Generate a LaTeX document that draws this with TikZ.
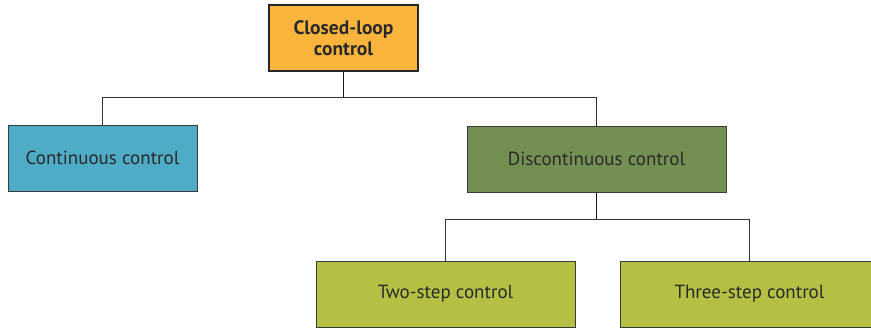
\documentclass[tikz,border=0pt]{standalone}
\usepackage{fontspec}
\setmainfont{PT Sans}
\definecolor{orangebox}{HTML}{FBB53C}
\definecolor{bluebox}{HTML}{4FACC6}
\definecolor{olivebox}{HTML}{748F52}
\definecolor{limebox}{HTML}{B5BF44}
\definecolor{txt}{HTML}{2A2A2A}
\definecolor{edge}{HTML}{3A3A3A}
\tikzset{
  x=1pt, y=-1pt,
  box/.style={draw=edge, line width=1pt, minimum height=66pt, inner sep=0pt,
    text=txt, font=\fontsize{19}{22}\selectfont, align=center},
  topbox/.style={box, draw=black!85, line width=2.2pt, fill=orangebox,
    font=\fontsize{19.5}{21}\selectfont\bfseries},
  link/.style={draw=black!80, line width=0.9pt},
  stem/.style={draw=black!90, line width=1.6pt},
}
\begin{document}
\begin{tikzpicture}
\useasboundingbox (0,0) rectangle (871,327);
\clip (0,0) rectangle (871,327);
\node[topbox, minimum width=149pt, minimum height=66pt] (top) at (343.5,38) {Closed-loop\\control};
\node[box, fill=bluebox, minimum width=189pt] (cont) at (102.5,158) {Continuous control};
\node[box, fill=olivebox, minimum width=259pt] (disc) at (596.5,159) {Discontinuous control};
\node[box, fill=limebox, minimum width=259pt] (two) at (445.5,294) {Two-step control};
\node[box, fill=limebox, minimum width=259pt] (three) at (749.5,294) {Three-step control};
\coordinate (b1) at (343.5,97);
\coordinate (b2) at (596.5,219);
\draw[stem] (top.south) -- (b1);
\draw[link] (cont.north) -- (cont.north |- b1) -- (disc.north |- b1) -- (disc.north);
\draw[stem] (disc.south) -- (b2);
\draw[link] (two.north) -- (two.north |- b2) -- (three.north |- b2) -- (three.north);
\end{tikzpicture}
\end{document}
